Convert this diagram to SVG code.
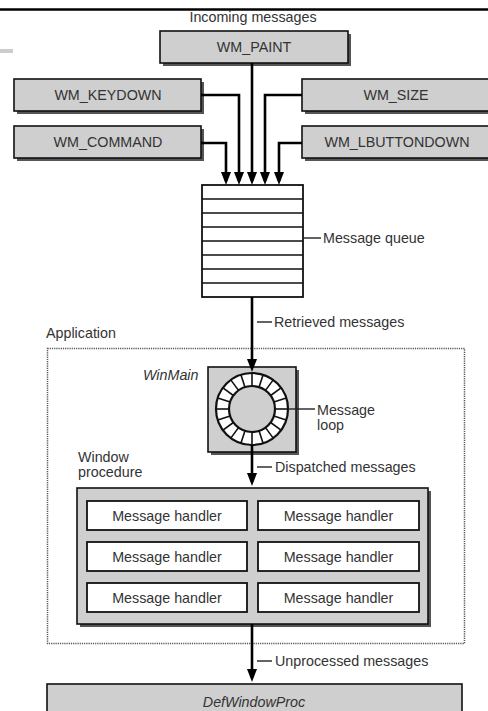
<svg xmlns="http://www.w3.org/2000/svg" width="488" height="711" viewBox="0 0 488 711">
<defs>
<style>
text{font-family:"Liberation Sans",Arial,sans-serif;fill:#333;font-size:14.3px}
.c{text-anchor:middle}
.it{font-style:italic}
.box{fill:#cfcfcf;stroke:#111;stroke-width:1.6}
.sh{fill:#555}
.wb{fill:#fff;stroke:#111;stroke-width:1.8}
.ln{stroke:#000;stroke-width:2.6;fill:none}
.lbl{stroke:#222;stroke-width:1.4}
</style>
<marker id="ah" viewBox="0 0 13 10" refX="9" refY="5" markerWidth="13" markerHeight="10" markerUnits="userSpaceOnUse" orient="auto">
<path d="M0,0 L13,5 L0,10 Z" fill="#000"/>
</marker>
</defs>
<rect width="488" height="711" fill="#fff"/>
<line x1="0" y1="9.5" x2="488" y2="9.5" stroke="#000" stroke-width="2.6"/>
<rect x="0" y="49" width="13" height="4" fill="#ccc"/>
<text x="253" y="22" class="c" font-size="13.2px">Incoming messages</text>

<g id="wm_paint"><rect class="sh" x="163" y="34" width="188" height="32"/><rect class="box" x="160" y="31" width="188" height="32"/><text x="254" y="52" class="c">WM_PAINT</text></g>
<g id="wm_keydown"><rect class="sh" x="17" y="82" width="187" height="32"/><rect class="box" x="14" y="79" width="187" height="32"/><text x="108" y="100" class="c">WM_KEYDOWN</text></g>
<g id="wm_command"><rect class="sh" x="17" y="129" width="187" height="32"/><rect class="box" x="14" y="126" width="187" height="32"/><text x="108" y="147" class="c">WM_COMMAND</text></g>
<g id="wm_size"><rect class="sh" x="305" y="82" width="190" height="32"/><rect class="box" x="302" y="79" width="190" height="32"/><text x="396" y="100" class="c">WM_SIZE</text></g>
<g id="wm_lbuttondown"><rect class="sh" x="305" y="129" width="190" height="32"/><rect class="box" x="302" y="126" width="190" height="32"/><text x="397" y="147" class="c">WM_LBUTTONDOWN</text></g>

<g id="queue">
<rect class="wb" x="202" y="185" width="101" height="112"/>
<path d="M202,199H303M202,213H303M202,227H303M202,241H303M202,255H303M202,269H303M202,283H303" stroke="#111" stroke-width="1.6"/>
<line class="lbl" x1="303" y1="238" x2="321" y2="238"/>
<text x="323" y="243">Message queue</text>
</g>

<g id="application">
<text x="46" y="338">Application</text>
<rect x="47.5" y="348.5" width="417" height="295" fill="none" stroke="#555" stroke-width="1.5" stroke-dasharray="1.2,1"/>
</g>

<g id="winmain">
<rect class="sh" x="211" y="370" width="88" height="85"/>
<rect class="box" x="208" y="367" width="88" height="85"/>
<text x="143" y="380" class="it">WinMain</text>
<circle cx="252" cy="409" r="36" fill="#fff" stroke="#111" stroke-width="2.2"/>
<circle cx="252" cy="409" r="23" fill="#cfcfcf" stroke="#111" stroke-width="2.2"/>
<g stroke="#111" stroke-width="1.6">
<line x1="252" y1="386" x2="252" y2="373"/>
<line x1="259.1" y1="387.1" x2="263.1" y2="374.8"/>
<line x1="265.5" y1="390.4" x2="273.2" y2="379.9"/>
<line x1="270.6" y1="395.5" x2="281.1" y2="387.8"/>
<line x1="273.9" y1="401.9" x2="286.2" y2="397.9"/>
<line x1="275" y1="409" x2="288" y2="409"/>
<line x1="273.9" y1="416.1" x2="286.2" y2="420.1"/>
<line x1="270.6" y1="422.5" x2="281.1" y2="430.2"/>
<line x1="265.5" y1="427.6" x2="273.2" y2="438.1"/>
<line x1="259.1" y1="430.9" x2="263.1" y2="443.2"/>
<line x1="252" y1="432" x2="252" y2="445"/>
<line x1="244.9" y1="430.9" x2="240.9" y2="443.2"/>
<line x1="238.5" y1="427.6" x2="230.8" y2="438.1"/>
<line x1="233.4" y1="422.5" x2="222.9" y2="430.2"/>
<line x1="230.1" y1="416.1" x2="217.8" y2="420.1"/>
<line x1="229" y1="409" x2="216" y2="409"/>
<line x1="230.1" y1="401.9" x2="217.8" y2="397.9"/>
<line x1="233.4" y1="395.5" x2="222.9" y2="387.8"/>
<line x1="238.5" y1="390.4" x2="230.8" y2="379.9"/>
<line x1="244.9" y1="387.1" x2="240.9" y2="374.8"/>
</g>
<line class="lbl" x1="288" y1="409" x2="315" y2="409"/>
<text x="317" y="415">Message</text>
<text x="317" y="430">loop</text>
</g>

<g id="window_procedure">
<text x="78" y="462">Window</text>
<text x="78" y="477">procedure</text>
<rect class="sh" x="80" y="491" width="351" height="136"/>
<rect class="box" x="77" y="488" width="351" height="136"/>
<g id="handlers">
<rect class="wb" x="87" y="501" width="160" height="29"/><text x="167" y="521" class="c">Message handler</text>
<rect class="wb" x="258" y="501" width="161" height="29"/><text x="338.5" y="521" class="c">Message handler</text>
<rect class="wb" x="87" y="542" width="160" height="29"/><text x="167" y="562" class="c">Message handler</text>
<rect class="wb" x="258" y="542" width="161" height="29"/><text x="338.5" y="562" class="c">Message handler</text>
<rect class="wb" x="87" y="583" width="160" height="29"/><text x="167" y="603" class="c">Message handler</text>
<rect class="wb" x="258" y="583" width="161" height="29"/><text x="338.5" y="603" class="c">Message handler</text>
</g>
</g>

<g id="defwindowproc">
<rect class="box" x="47" y="684" width="415" height="40"/>
<text x="254" y="707" class="c it">DefWindowProc</text>
</g>

<g id="connectors">
<path class="ln" d="M201,95H239V181" marker-end="url(#ah)"/>
<path class="ln" d="M201,143H226V181" marker-end="url(#ah)"/>
<path class="ln" d="M252,63V181" marker-end="url(#ah)"/>
<path class="ln" d="M302,95H265V181" marker-end="url(#ah)"/>
<path class="ln" d="M302,143H279V181" marker-end="url(#ah)"/>
<path class="ln" d="M252,297V368" marker-end="url(#ah)"/>
<line class="lbl" x1="257" y1="322" x2="272" y2="322"/>
<text x="274" y="327">Retrieved messages</text>
<path class="ln" d="M252,445V482" marker-end="url(#ah)"/>
<line class="lbl" x1="257" y1="467" x2="272" y2="467"/>
<text x="275" y="472">Dispatched messages</text>
<path class="ln" d="M252,624V678" marker-end="url(#ah)"/>
<line class="lbl" x1="257" y1="661" x2="272" y2="661"/>
<text x="275" y="666">Unprocessed messages</text>
</g>
</svg>
